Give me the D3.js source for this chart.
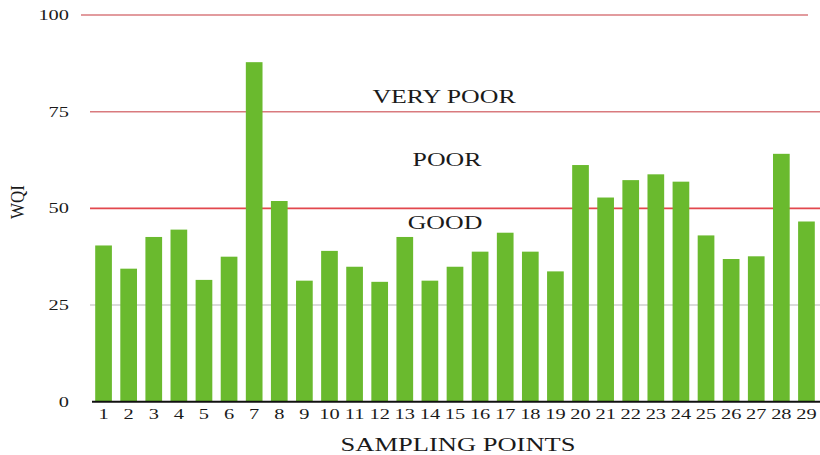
<!DOCTYPE html>
<html>
<head>
<meta charset="utf-8">
<script src="https://cdn.jsdelivr.net/npm/d3@7"></script>
<style>
  html, body { margin: 0; padding: 0; background: #fff; }
  svg { display: block; }
  text { font-family: "Liberation Serif", "DejaVu Serif", serif; fill: #1a1a1a; }
</style>
</head>
<body>
<svg id="chart" width="820" height="455"></svg>
<script>
// ---- data ----
const categories = ["1","2","3","4","5","6","7","8","9","10","11","12","13","14","15","16","17","18","19","20","21","22","23","24","25","26","27","28","29"];
const wqiValues = [40.4, 34.4, 42.6, 44.5, 31.5, 37.5, 87.8, 51.9, 31.3, 39.0, 34.9, 31.0, 42.6, 31.3, 34.9, 38.8, 43.7, 38.8, 33.7, 61.2, 52.8, 57.3, 58.8, 56.9, 43.0, 36.9, 37.6, 64.1, 46.6];
const yTicks = [0, 25, 50, 75, 100];
const zoneLabels = ["VERY POOR", "POOR", "GOOD"];
const xTitle = "SAMPLING POINTS";
const yTitle = "WQI";

// ---- layout ----
const svg = d3.select("#chart");
const SX = 1.36; // horizontal stretch of the glyphs in the reference
const x = d3.scaleBand().domain(categories).range([91, 819]).paddingInner(0.335).paddingOuter(0.1675);
const y = d3.scaleLinear().domain([0, 100]).range([401.7, 15]);

// gridlines (behind bars)
const gridColor = v => v === 25 ? "#cfcfcf" : (v === 50 ? "#e2474d" : "#d97a7e");
const gridX0 = v => v === 100 ? 81 : 90;
const gridX1 = v => v === 100 ? 808 : 820;
svg.append("g").selectAll("line")
  .data(yTicks.filter(v => v > 0))
  .join("line")
  .attr("x1", d => gridX0(d)).attr("x2", d => gridX1(d))
  .attr("y1", d => y(d)).attr("y2", d => y(d))
  .attr("stroke", d => gridColor(d))
  .attr("stroke-width", 1.6);

// bars
svg.append("g").selectAll("rect")
  .data(wqiValues)
  .join("rect")
  .attr("x", (d, i) => x(categories[i]))
  .attr("width", x.bandwidth())
  .attr("y", d => y(d))
  .attr("height", d => y(0) - y(d))
  .attr("fill", "#6aba2e");

// x axis line
svg.append("line")
  .attr("x1", 92).attr("x2", 820)
  .attr("y1", y(0)).attr("y2", y(0))
  .attr("stroke", "#111").attr("stroke-width", 2);

// x tick labels
svg.append("g").selectAll("text")
  .data(categories)
  .join("text")
  .attr("transform", d => `translate(${x(d) + x.bandwidth() / 2},419) scale(${SX},1)`)
  .attr("text-anchor", "middle")
  .attr("font-size", 15)
  .text(d => d);

// y tick labels
svg.append("g").selectAll("text")
  .data(yTicks)
  .join("text")
  .attr("transform", d => `translate(69,${y(d) + 5}) scale(${SX},1)`)
  .attr("text-anchor", "end")
  .attr("font-size", 15)
  .text(d => d);

// zone labels
svg.append("g").selectAll("text")
  .data(zoneLabels)
  .join("text")
  .attr("transform", (d, i) => `translate(${[444, 447, 445][i]},${[103, 166, 229][i]}) scale(${SX},1)`)
  .attr("text-anchor", "middle")
  .attr("font-size", 19)
  .text(d => d);

// axis titles
svg.append("text")
  .attr("transform", `translate(458,451) scale(${SX},1)`)
  .attr("text-anchor", "middle")
  .attr("font-size", 19.5)
  .text(xTitle);

svg.append("text")
  .attr("transform", `translate(24,202) scale(1.15,1) rotate(-90)`)
  .attr("text-anchor", "middle")
  .attr("font-size", 17)
  .text(yTitle);
</script>
</body>
</html>
